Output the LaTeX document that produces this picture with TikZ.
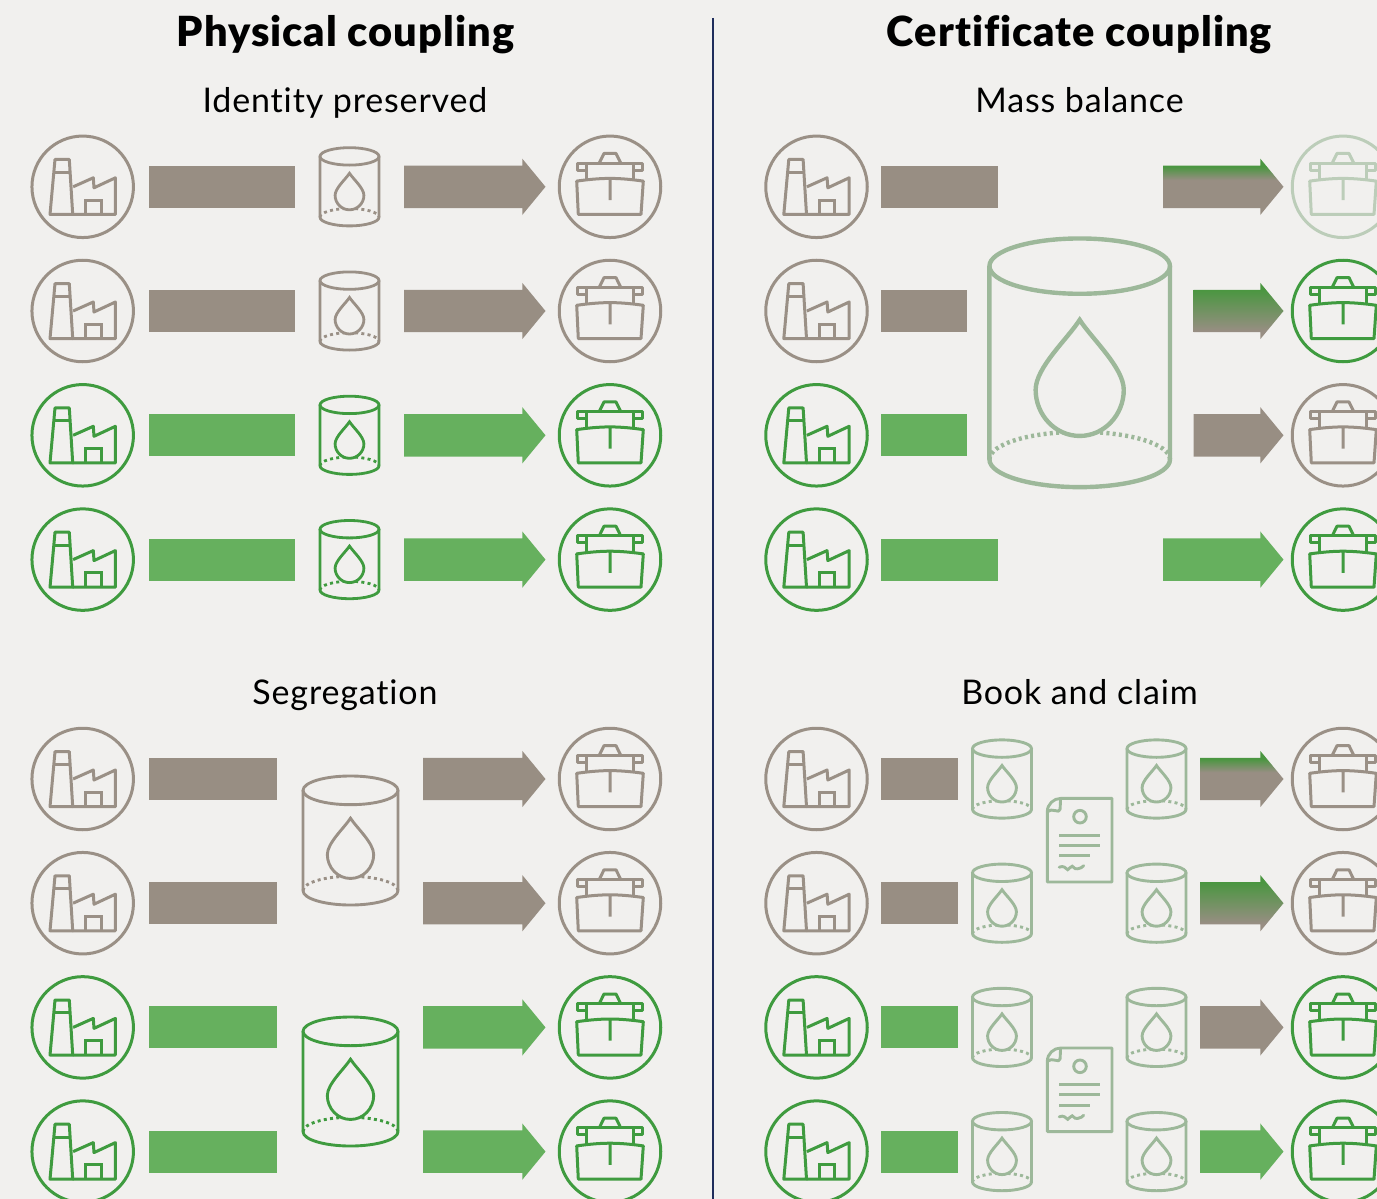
\documentclass[tikz,border=0pt]{standalone}
\usepackage{fontspec}
\setmainfont{Lato}[Ligatures=NoCommon,BoldFont={Lato Black}]
\newfontfamily\titlefont{Lato Black}[Ligatures=NoCommon,LetterSpace=2.5]
\newfontfamily\subfont{Lato}[Ligatures=NoCommon,LetterSpace=2.5]
\usetikzlibrary{shapes.arrows}

\definecolor{paperBg}{HTML}{F1F0EE}
\definecolor{iconGrey}{HTML}{9A9086}
\definecolor{iconGreen}{HTML}{3F9B3F}
\definecolor{iconSage}{HTML}{9DB89A}
\definecolor{iconPale}{HTML}{BCCDB9}
\definecolor{flowGrey}{HTML}{988E83}
\definecolor{flowGreen}{HTML}{66B05E}
\definecolor{flowDeep}{HTML}{4A9640}
\definecolor{ruleNavy}{HTML}{1F2D5C}

\pgfdeclareverticalshading{fadetop}{100bp}{color(0bp)=(flowGrey);color(56bp)=(flowGrey);color(68bp)=(flowDeep);color(100bp)=(flowDeep)}
\pgfdeclareverticalshading{fadeall}{100bp}{color(0bp)=(flowGrey);color(32bp)=(flowGrey);color(69bp)=(flowDeep);color(100bp)=(flowDeep)}

\tikzset{
  ring/.style={draw,circle,line width=3pt,minimum size=101.5pt,inner sep=0pt},
  bar/.style={fill=#1,anchor=west,minimum height=42pt,inner sep=0pt,outer sep=0pt},
  flow/.style={single arrow,anchor=tail,inner xsep=0pt,inner ysep=21pt,outer sep=0pt,
    single arrow head extend=7pt,single arrow tip angle=101,single arrow head indent=0pt},
  flowG/.style={fill=flowGrey},
  flowN/.style={fill=flowGreen},
  flowT/.style={shading=fadetop},
  flowA/.style={shading=fadeall},
  heading/.style={font=\titlefont\fontsize{41.5}{41.5}\selectfont,inner sep=0pt,anchor=base},
  subheading/.style={font=\subfont\fontsize{34}{34}\selectfont,inner sep=0pt,anchor=base},
  factory/.pic={
    \node [ring] (-ring) at (0,0) {};
    \draw [line width=3pt,line join=round] (-27.7,-27.4) -- (-13.4,-27.4) -- (-10,27.6) -- (-32.7,27.6) -- cycle;
    \draw [line width=3pt] (-29.5,-14.5) -- (-12.6,-14.5);
    \draw [line width=3pt,line join=round] (-9.6,0) -- (10.6,-9) -- (11.3,1) -- (32.7,-9) -- (32.7,27.6) -- (-10,27.6);
    \draw [line width=3pt] (3,27.6) -- (3,13.3) -- (18.3,13.3) -- (18.3,27.6);
  },
  cookpot/.pic={
    \node [ring] (-ring) at (0,0) {};
    \draw [line width=3pt,line join=round] (0,-8.4) .. controls (-12,-8.4) and (-24,-7) .. (-33.3,-5.7) -- (-31.7,27.6) -- (31,27.6) -- (33.3,-5.7) .. controls (24,-7) and (12,-8.4) .. (0,-8.4) -- (0,13.3);
    \draw [line width=3pt,line join=round] (-23.3,-16.7) -- (-32.3,-16.7) -- (-32.3,-23.8) -- (32.3,-23.8) -- (32.3,-16.7) -- (23.3,-16.7);
    \draw [line width=3pt] (-23.3,-23.8) -- (-23.3,-8);
    \draw [line width=3pt] (23.3,-23.8) -- (23.3,-8);
    \draw [line width=3pt,line join=round] (-10.7,-23.8) -- (-6,-33.4) -- (6,-33.4) -- (10.7,-23.8);
  },
  tank/.pic={
    \draw [dash pattern=on 3pt off 3.3pt] (-29.5,30.4) arc [start angle=180,end angle=360,x radius=29.5,y radius=8.7];
    \draw (0,-30.4) ellipse [x radius=29.5,y radius=8.7];
    \draw (-29.5,-30.4) -- (-29.5,30.4) arc [start angle=180,end angle=0,x radius=29.5,y radius=8.7] -- (29.5,-30.4);
    \draw [fill=paperBg] (0,-13.5) .. controls (-4,-7.5) and (-14.4,1.5) .. (-14.4,8.5) .. controls (-14.4,16.4) and (-8,23) .. (0,23) .. controls (8,23) and (14.4,16.4) .. (14.4,8.5) .. controls (14.4,1.5) and (4,-7.5) .. (0,-13.5) -- cycle;
  },
  certificate/.pic={
    \draw [line join=round] (-19.1,-41.8) -- (32.3,-41.8) -- (32.3,41.8) -- (-32.4,41.8) -- (-32.4,-28.5) .. controls (-32.4,-36) and (-26,-41.8) .. (-19.1,-41.8) -- (-19.6,-31) .. controls (-20,-29) and (-22,-28.3) .. (-24,-29.5) .. controls (-27,-31) and (-30,-30) .. (-32.4,-28.5);
    \draw (0.3,-23.5) circle [radius=6.3];
    \draw (-20.5,-5) -- (20.5,-5);
    \draw (-20.5,5) -- (20.5,5);
    \draw (-20.5,15.3) -- (10,15.3);
    \draw [line cap=round] (-20.5,27) .. controls (-16,25) and (-14,28) .. (-12,29.5) .. controls (-10,29) and (-9,25.5) .. (-7.5,26) .. controls (-6,28) and (-4,30) .. (1.5,27.5) -- (4,25.5);
  }
}

\begin{document}
\begin{tikzpicture}[x=1pt,y=-1pt]
\clip (0,0) rectangle (1377,1199);
\fill [paperBg] (0,0) rectangle (1377,1199);

\node [heading] (headPhysical) at (345.5,46.5) {Physical coupling};
\node [heading] (headCertificate) at (1079.5,46.5) {Certificate coupling};
\node [subheading] (subIdentity) at (345,112) {Identity preserved};
\node [subheading] (subMass) at (1079.5,112) {Mass balance};
\node [subheading] (subSegregation) at (345,704) {Segregation};
\node [subheading] (subBook) at (1079.5,704) {Book and claim};
\draw [ruleNavy,line width=1.6pt] (713,18) -- (713,1199);

% identity preserved
\foreach \r/\y/\col/\barcol/\sty in {1/186.8/iconGrey/flowGrey/flowG,2/311/iconGrey/flowGrey/flowG,3/435.3/iconGreen/flowGreen/flowN,4/559.6/iconGreen/flowGreen/flowN} {
  \pic (IP\r) [color=\col] at (82.7,\y) {factory};
  \node [bar=\barcol,minimum width=146pt] (IPbar\r) at (149,\y) {};
  \pic (IPtank\r) [color=\col,line width=2.8pt] at (349.5,\y) {tank};
  \node [flow,\sty,minimum height=141.5pt] (IPflow\r) at (404,\y) {};
  \pic (IPpot\r) [color=\col] at (610,\y) {cookpot};
}

% segregation
\foreach \r/\y/\col/\barcol/\sty in {1/779/iconGrey/flowGrey/flowG,2/903.2/iconGrey/flowGrey/flowG,3/1027.4/iconGreen/flowGreen/flowN,4/1151.6/iconGreen/flowGreen/flowN} {
  \pic (SG\r) [color=\col] at (82.7,\y) {factory};
  \node [bar=\barcol,minimum width=128pt] (SGbar\r) at (149,\y) {};
  \node [flow,\sty,minimum height=122.5pt] (SGflow\r) at (423,\y) {};
  \pic (SGpot\r) [color=\col] at (610,\y) {cookpot};
}
\pic (SGtankA) [color=iconGrey,line width=2.9pt,xscale=1.61,yscale=1.65] at (350.5,840.5) {tank};
\pic (SGtankB) [color=iconGreen,line width=2.9pt,xscale=1.61,yscale=1.65] at (350.5,1081.5) {tank};

% mass balance
\foreach \r/\y/\col/\potcol/\barcol/\sty/\barlen/\tail in {1/186.8/iconGrey/iconPale/flowGrey/flowT/117/1163,2/311/iconGrey/iconGreen/flowGrey/flowA/86/1193.5,3/435.3/iconGreen/iconGrey/flowGreen/flowG/86/1193.5,4/559.6/iconGreen/iconGreen/flowGreen/flowN/117/1163} {
  \pic (MB\r) [color=\col] at (816.5,\y) {factory};
  \node [bar=\barcol,minimum width=\barlen pt] (MBbar\r) at (881,\y) {};
  \pgfmathsetmacro{\flowlen}{1283.5-\tail}
  \node [flow,\sty,minimum height=\flowlen pt] (MBflow\r) at (\tail,\y) {};
  \pic (MBpot\r) [color=\potcol] at (1343,\y) {cookpot};
}
\pic (MBtank) [color=iconSage,line width=4.4pt,xscale=3.06,yscale=3.18] at (1079.7,362.8) {tank};

% book and claim
\foreach \r/\y/\col/\barcol/\sty in {1/779/iconGrey/flowGrey/flowT,2/903.2/iconGrey/flowGrey/flowA,3/1027.4/iconGreen/flowGreen/flowG,4/1151.6/iconGreen/flowGreen/flowN} {
  \pic (BC\r) [color=\col] at (816.5,\y) {factory};
  \node [bar=\barcol,minimum width=77pt] (BCbar\r) at (881,\y) {};
  \pic (BCtankL\r) [color=iconSage,line width=2.9pt] at (1002,\y) {tank};
  \pic (BCtankR\r) [color=iconSage,line width=2.9pt] at (1156.5,\y) {tank};
  \node [flow,\sty,minimum height=83.5pt] (BCflow\r) at (1200,\y) {};
  \pic (BCpot\r) [color=\col] at (1343,\y) {cookpot};
}
\pic (BCdocA) [color=iconSage,line width=2.9pt] at (1079.7,840.2) {certificate};
\pic (BCdocB) [color=iconSage,line width=2.9pt] at (1079.7,1089.8) {certificate};
\end{tikzpicture}
\end{document}
